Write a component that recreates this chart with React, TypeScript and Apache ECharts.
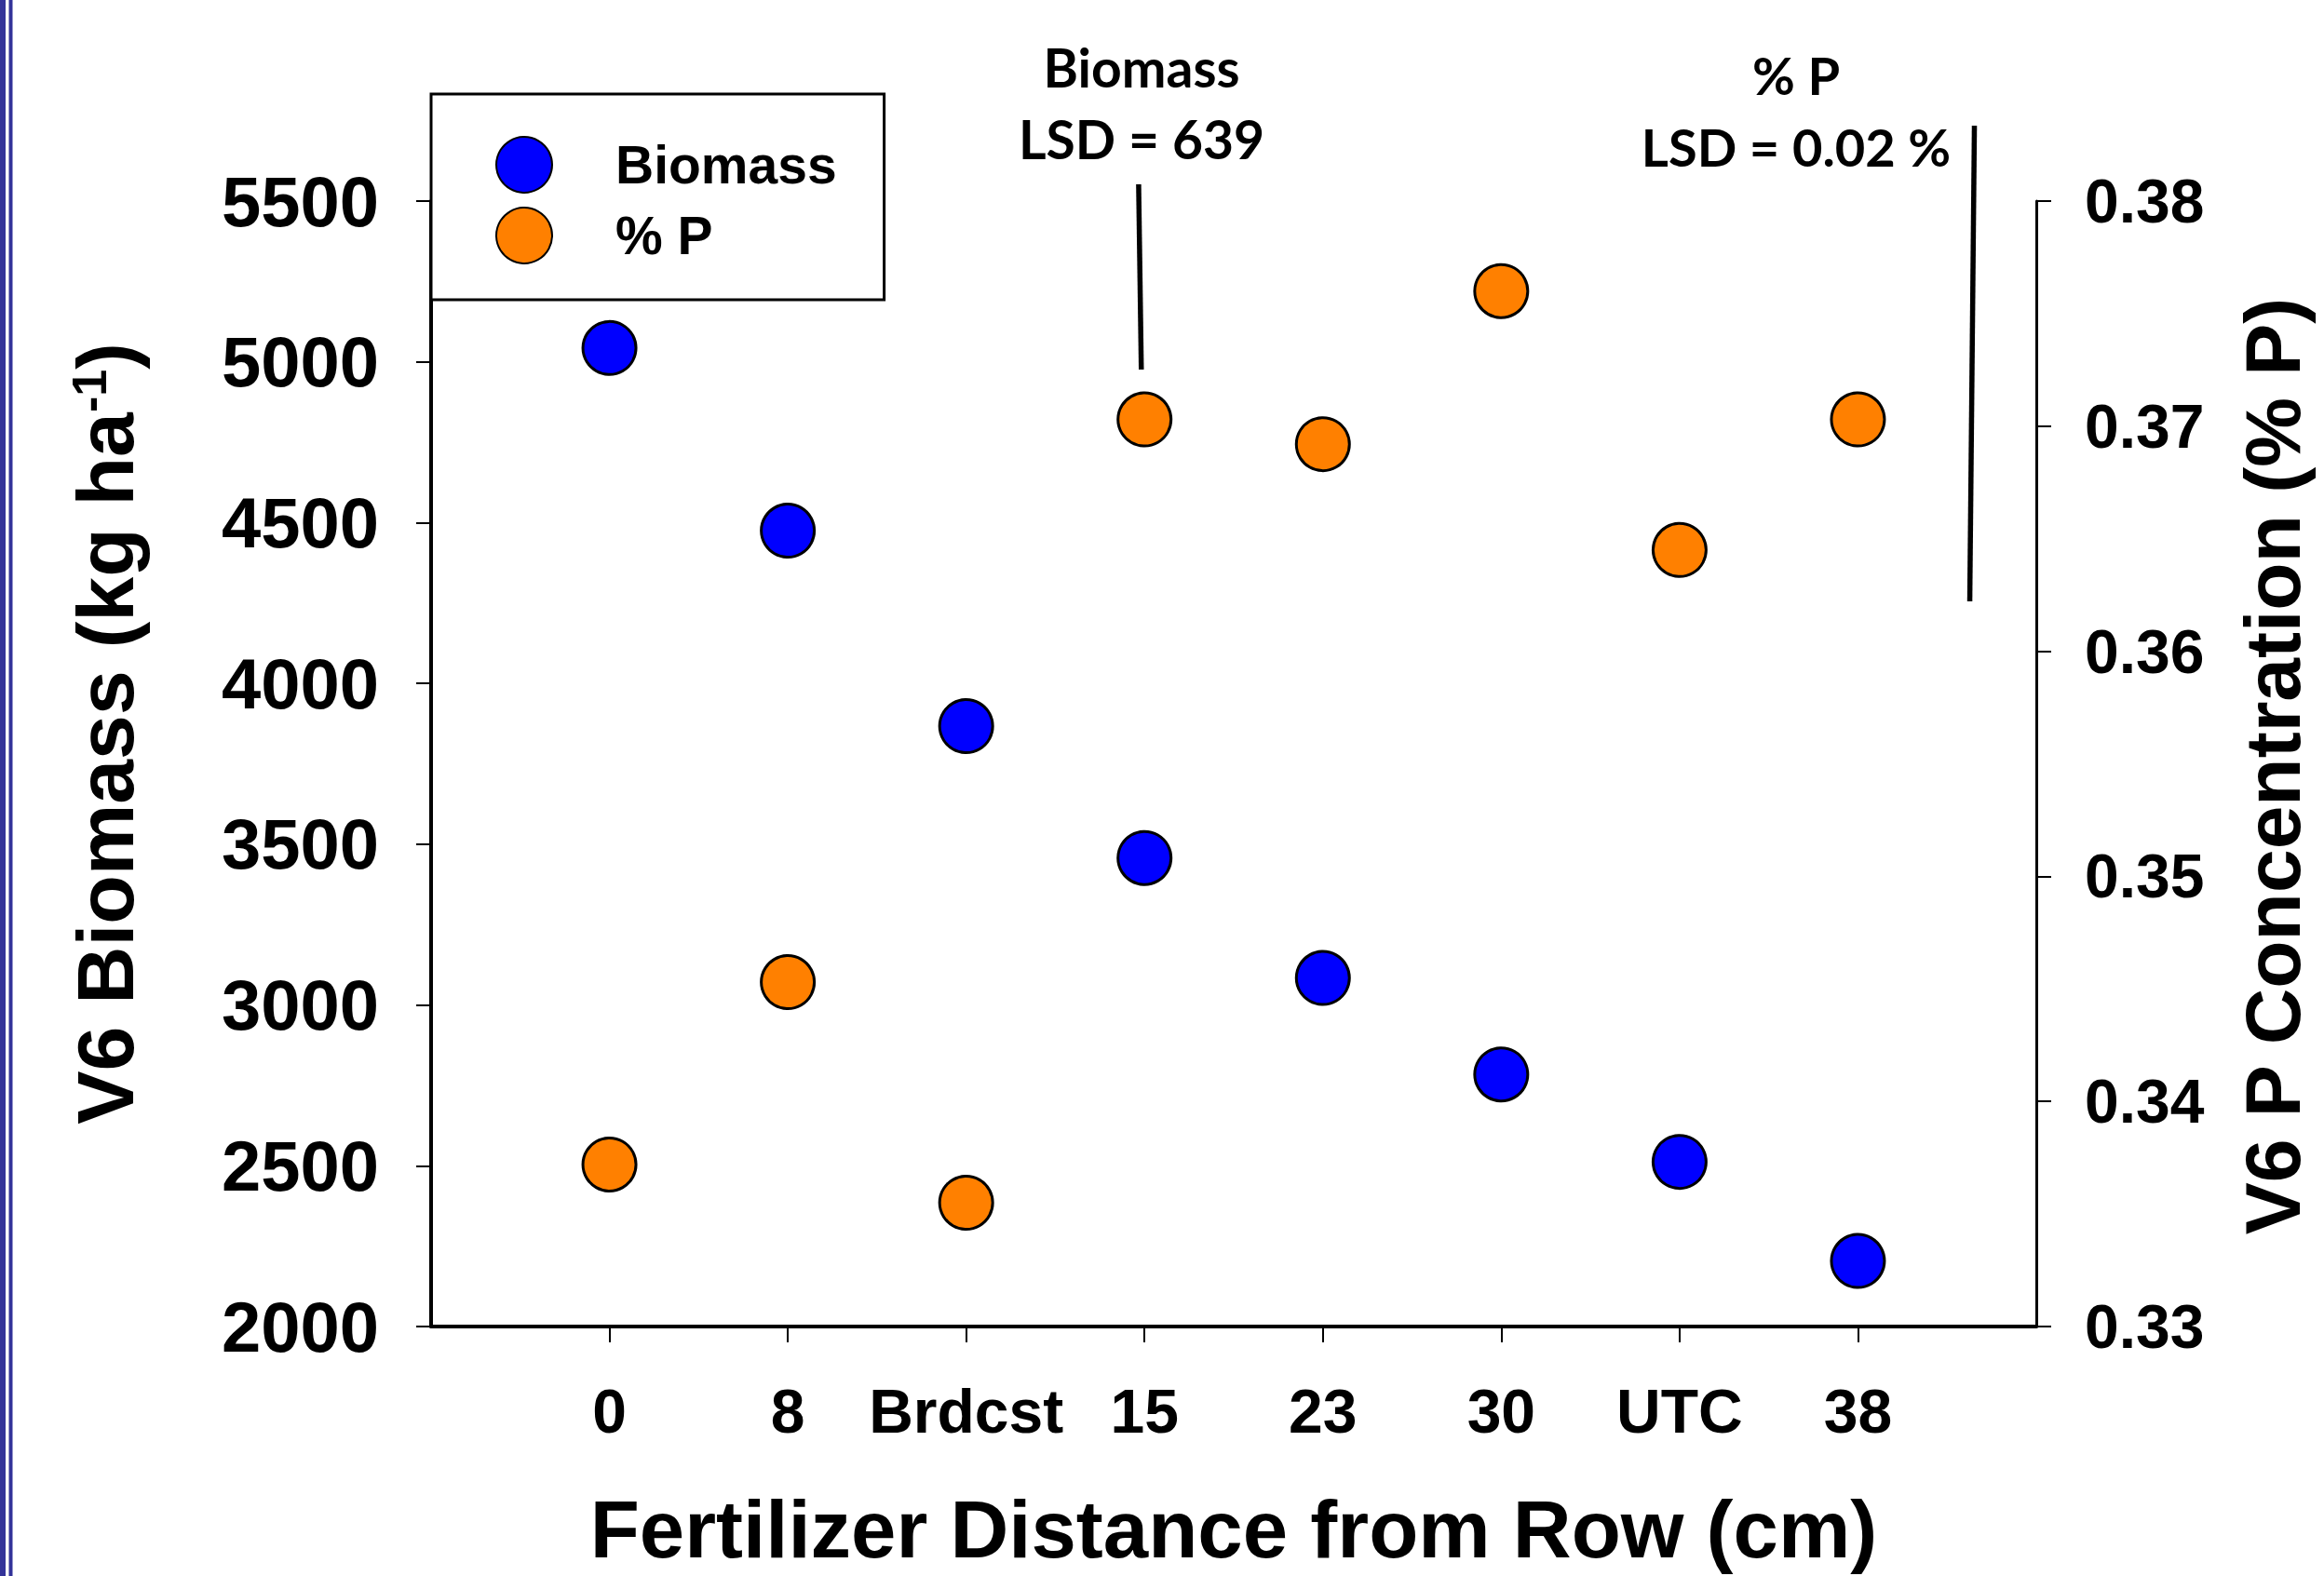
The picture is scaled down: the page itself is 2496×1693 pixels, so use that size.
import React, { useEffect, useRef } from 'react';
import * as echarts from 'echarts';

// ---- data ----
const categories = ['0', '8', 'Brdcst', '15', '23', '30', 'UTC', '38'];
const biomass = [5043, 4475, 3867, 3457, 3084, 2784, 2512, 2204];
const percentP = [0.3372, 0.3453, 0.3355, 0.3703, 0.3692, 0.376, 0.3645, 0.3703];
const categoryPositions = [0, 1, 2, 3, 4, 5, 6, 7];
const leftAxisRange = [2000, 5500];
const leftAxisStep = 500;
const rightAxisRange = [0.33, 0.38];
const rightAxisStep = 0.01;
const xRange = [-1, 8];
// LSD bars (x in category units, y in axis units)
const lsdBiomassBar = [[2.967, 5552], [2.982, 4976]];
const lsdPBar = [[7.653, 0.38335], [7.627, 0.36222]];
const lsdBiomassText = ['Biomass', 'LSD = 639'];
const lsdPText = ['% P', 'LSD = 0.02 %'];

const ARIAL = '"Liberation Sans", Arial, Helvetica, sans-serif';
const CALIBRI = 'Lato, Carlito, Calibri, sans-serif';

export default function App() {
  const ref = useRef<HTMLDivElement>(null);
  useEffect(() => {
    if (!ref.current) return;
    const chart = echarts.init(ref.current, null, { renderer: 'svg' });
    const option: any = {
      animation: false,
      backgroundColor: '#ffffff',
      grid: { left: 463, top: 216, right: 309, bottom: 268, containLabel: false, outerBoundsMode: 'none' },
      legend: {
        data: ['Biomass', '% P'],
        left: 463,
        top: 101,
        orient: 'vertical',
        itemWidth: 60,
        itemHeight: 60,
        itemGap: 14,
        padding: [45, 51, 38, 69],
        borderColor: '#000',
        borderWidth: 3,
        backgroundColor: '#fff',
        selectedMode: false,
        textStyle: { fontSize: 57, fontWeight: 'bold', fontFamily: ARIAL, color: '#000', padding: [0, 0, 0, 63] },
      },
      xAxis: {
        type: 'value',
        min: xRange[0],
        max: xRange[1],
        interval: 1,
        axisLine: { onZero: false, lineStyle: { color: '#000', width: 4 } },
        axisTick: { show: true, length: 17, lineStyle: { color: '#000', width: 2 }, customValues: categoryPositions },
        axisLabel: {
          customValues: categoryPositions,
          formatter: (v: number) => categories[Math.round(v)] ?? '',
          margin: 58,
          fontSize: 66,
          fontWeight: 'bold',
          fontFamily: ARIAL,
          color: '#000',
        },
        splitLine: { show: false },
        name: 'Fertilizer Distance from Row (cm)',
        nameLocation: 'middle',
        nameGap: 174,
        nameTextStyle: { fontSize: 87, fontWeight: 'bold', fontFamily: ARIAL, color: '#000' },
      },
      yAxis: [
        {
          type: 'value',
          position: 'left',
          min: leftAxisRange[0],
          max: leftAxisRange[1],
          interval: leftAxisStep,
          axisLine: { show: true, onZero: false, lineStyle: { color: '#000', width: 4 } },
          axisTick: { show: true, length: 16, lineStyle: { color: '#000', width: 2 } },
          axisLabel: {
            margin: 56,
            fontSize: 76,
            fontWeight: 'bold',
            fontFamily: ARIAL,
            color: '#000',
            formatter: (v: number) => String(Math.round(v)),
          },
          splitLine: { show: false },
        },
        {
          type: 'value',
          position: 'right',
          min: rightAxisRange[0],
          max: rightAxisRange[1],
          interval: rightAxisStep,
          axisLine: { show: true, onZero: false, lineStyle: { color: '#000', width: 3 } },
          axisTick: { show: true, length: 16, lineStyle: { color: '#000', width: 2 } },
          axisLabel: {
            margin: 52,
            fontSize: 66,
            fontWeight: 'bold',
            fontFamily: ARIAL,
            color: '#000',
            formatter: (v: number) => v.toFixed(2),
          },
          splitLine: { show: false },
        },
      ],
      series: [
        {
          name: 'Biomass',
          type: 'scatter',
          yAxisIndex: 0,
          symbol: 'circle',
          symbolSize: 57,
          itemStyle: { color: '#0000FF', borderColor: '#000', borderWidth: 3, opacity: 1 },
          data: categoryPositions.map((x, i) => [x, biomass[i]]),
          z: 3,
        },
        {
          name: '% P',
          type: 'scatter',
          yAxisIndex: 1,
          symbol: 'circle',
          symbolSize: 57,
          itemStyle: { color: '#FF8000', borderColor: '#000', borderWidth: 3, opacity: 1 },
          data: categoryPositions.map((x, i) => [x, percentP[i]]),
          z: 3,
        },
        {
          name: 'LSD Biomass',
          type: 'line',
          yAxisIndex: 0,
          symbol: 'none',
          clip: false,
          silent: true,
          lineStyle: { color: '#000', width: 5.5 },
          data: lsdBiomassBar,
        },
        {
          name: 'LSD P',
          type: 'line',
          yAxisIndex: 1,
          symbol: 'none',
          clip: false,
          silent: true,
          lineStyle: { color: '#000', width: 5.5 },
          data: lsdPBar,
        },
      ],
      graphic: [
        { type: 'rect', x: 0, y: 0, shape: { x: 0, y: 0, width: 6, height: 1693 }, style: { fill: '#333399' } },
        { type: 'rect', x: 0, y: 0, shape: { x: 9.5, y: 0, width: 4, height: 1693 }, style: { fill: '#333399' } },
        {
          type: 'text', x: 1226, y: 72,
          style: { text: lsdBiomassText[0], fontSize: 57, fontWeight: 'bold', fontFamily: CALIBRI, fill: '#000', align: 'center', verticalAlign: 'middle' },
        },
        {
          type: 'text', x: 1226, y: 149,
          style: { text: lsdBiomassText[1], fontSize: 57, fontWeight: 'bold', fontFamily: CALIBRI, fill: '#000', align: 'center', verticalAlign: 'middle' },
        },
        {
          type: 'text', x: 1929, y: 80,
          style: { text: lsdPText[0], fontSize: 56, fontWeight: 'bold', fontFamily: CALIBRI, fill: '#000', align: 'center', verticalAlign: 'middle' },
        },
        {
          type: 'text', x: 1929, y: 157,
          style: { text: lsdPText[1], fontSize: 56, fontWeight: 'bold', fontFamily: CALIBRI, fill: '#000', align: 'center', verticalAlign: 'middle' },
        },
        {
          type: 'text', x: 113, y: 788, rotation: Math.PI / 2,
          style: {
            text: '{a|V6 Biomass (kg ha}{s|-1}{a|)}',
            align: 'center',
            verticalAlign: 'middle',
            fill: '#000',
            rich: {
              a: { fontSize: 86, fontWeight: 'bold', fontFamily: ARIAL, fill: '#000' },
              s: { fontSize: 52, fontWeight: 'bold', fontFamily: ARIAL, fill: '#000', verticalAlign: 'top' },
            },
          },
        },
        {
          type: 'text', x: 2441, y: 823, rotation: Math.PI / 2,
          style: {
            text: 'V6 P Concentration (% P)',
            fontSize: 84, fontWeight: 'bold', fontFamily: ARIAL, fill: '#000',
            align: 'center', verticalAlign: 'middle',
          },
        },
      ],
    };
    chart.setOption(option);
    return () => chart.dispose();
  }, []);
  return (
    <div
      ref={ref}
      style={{ position: 'absolute', left: 0, top: 0, width: 2496, height: 1693, background: '#fff' }}
    />
  );
}
